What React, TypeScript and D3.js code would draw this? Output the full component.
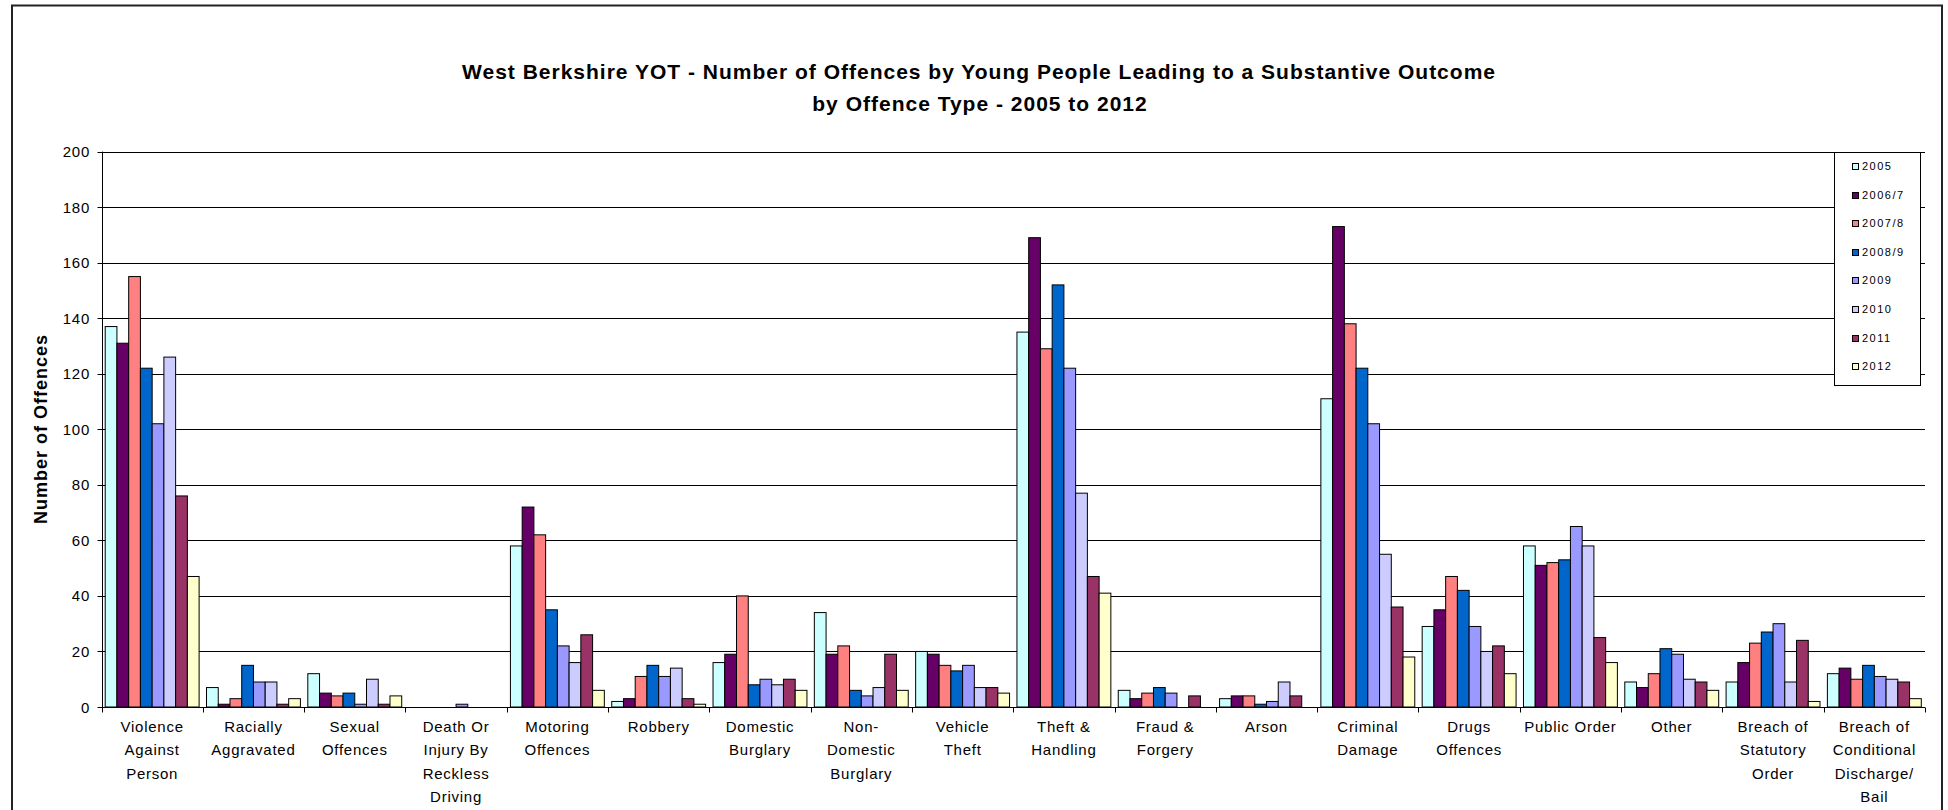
import React from "react";
import * as d3 from "d3";

const categories: string[][] = [
  ["Violence", "Against", "Person"],
  ["Racially", "Aggravated"],
  ["Sexual", "Offences"],
  ["Death Or", "Injury By", "Reckless", "Driving"],
  ["Motoring", "Offences"],
  ["Robbery"],
  ["Domestic", "Burglary"],
  ["Non-", "Domestic", "Burglary"],
  ["Vehicle", "Theft"],
  ["Theft &", "Handling"],
  ["Fraud &", "Forgery"],
  ["Arson"],
  ["Criminal", "Damage"],
  ["Drugs", "Offences"],
  ["Public Order"],
  ["Other"],
  ["Breach of", "Statutory", "Order"],
  ["Breach of", "Conditional", "Discharge/", "Bail"],
];

const seriesNames = ["2005", "2006/7", "2007/8", "2008/9", "2009", "2010", "2011", "2012"];
const seriesColors = ["#CCFFFF", "#660066", "#FF8080", "#0066CC", "#9999FF", "#CCCCFF", "#993366", "#FFFFCC"];

// values per category, in series order 2005..2012
const violence = [137, 131, 155, 122, 102, 126, 76, 47];
const racially = [7, 1, 3, 15, 9, 9, 1, 3];
const sexual = [12, 5, 4, 5, 1, 10, 1, 4];
const deathInjury = [0, 0, 0, 0, 1, 0, 0, 0];
const motoring = [58, 72, 62, 35, 22, 16, 26, 6];
const robbery = [2, 3, 11, 15, 11, 14, 3, 1];
const domesticBurglary = [16, 19, 40, 8, 10, 8, 10, 6];
const nonDomesticBurglary = [34, 19, 22, 6, 4, 7, 19, 6];
const vehicleTheft = [20, 19, 15, 13, 15, 7, 7, 5];
const theftHandling = [135, 169, 129, 152, 122, 77, 47, 41];
const fraudForgery = [6, 3, 5, 7, 5, 0, 4, 0];
const arson = [3, 4, 4, 1, 2, 9, 4, 0];
const criminalDamage = [111, 173, 138, 122, 102, 55, 36, 18];
const drugs = [29, 35, 47, 42, 29, 20, 22, 12];
const publicOrder = [58, 51, 52, 53, 65, 58, 25, 16];
const other = [9, 7, 12, 21, 19, 10, 9, 6];
const breachStatutory = [9, 16, 23, 27, 30, 9, 24, 2];
const breachConditional = [12, 14, 10, 15, 11, 10, 9, 3];

const values: number[][] = [
  violence, racially, sexual, deathInjury, motoring, robbery, domesticBurglary,
  nonDomesticBurglary, vehicleTheft, theftHandling, fraudForgery, arson,
  criminalDamage, drugs, publicOrder, other, breachStatutory, breachConditional,
];

const yTicks = [0, 20, 40, 60, 80, 100, 120, 140, 160, 180, 200];

const W = 1948;
const H = 810;
const plotLeft = 101.5;
const plotRight = 1925;
const plotTop = 151.6;
const plotBottom = 707;
const FONT = "Arial, 'Liberation Sans', Helvetica, sans-serif";

export default function App() {
  const catKeys = categories.map((c) => c.join(" "));
  const x = d3.scaleBand<string>().domain(catKeys).range([plotLeft, plotRight]).paddingInner(0).paddingOuter(0);
  const bw = x.bandwidth();
  const xs = d3.scaleBand<string>().domain(seriesNames).range([3.7, bw - 3.7]).padding(0);
  const y = d3.scaleLinear().domain([0, 200]).range([plotBottom, plotTop]);
  const crisp = (v: number) => Math.round(v) + 0.5;

  const boundaries = catKeys.map((k) => x(k)!).concat([plotRight]);

  return (
    <svg width={W} height={H} style={{ position: "absolute", left: 0, top: 0, background: "#fff" }} fontFamily={FONT}>
      <rect x={0} y={0} width={W} height={H} fill="#fff" />
      {/* outer frame */}
      <rect x={12} y={5.5} width={1930} height={H} fill="none" stroke="#222" strokeWidth={2} />

      {/* title */}
      <text x={979} y={79} textAnchor="middle" fontWeight="bold" fontSize={21} letterSpacing={1} fill="#000">
        West Berkshire YOT - Number of Offences by Young People Leading to a Substantive Outcome
      </text>
      <text x={980} y={111} textAnchor="middle" fontWeight="bold" fontSize={21} letterSpacing={1} fill="#000">
        by Offence Type - 2005 to 2012
      </text>

      {/* gridlines */}
      {yTicks.map((t) => (
        <line key={"g" + t} x1={plotLeft} x2={plotRight} y1={crisp(y(t))} y2={crisp(y(t))} stroke="#000" strokeWidth={1} />
      ))}

      {/* bars */}
      {values.map((row, ci) =>
        row.map((v, si) =>
          v > 0 ? (
            <rect
              key={ci + "-" + si}
              x={x(catKeys[ci])! + xs(seriesNames[si])!}
              y={y(v)}
              width={xs.bandwidth()}
              height={y(0) - y(v)}
              fill={seriesColors[si]}
              stroke="#000"
              strokeWidth={1}
            />
          ) : null
        )
      )}

      {/* y axis */}
      <line x1={crisp(plotLeft)} x2={crisp(plotLeft)} y1={plotTop} y2={plotBottom + 0.5} stroke="#000" strokeWidth={1} />
      {yTicks.map((t) => (
        <g key={"yt" + t}>
          <line x1={crisp(plotLeft) - 5} x2={crisp(plotLeft)} y1={crisp(y(t))} y2={crisp(y(t))} stroke="#000" />
          <text x={90} y={y(t) + 5.5} textAnchor="end" fontSize={15} letterSpacing={0.75} fill="#000">
            {t}
          </text>
        </g>
      ))}

      {/* x axis */}
      <line x1={plotLeft} x2={plotRight} y1={crisp(plotBottom)} y2={crisp(plotBottom)} stroke="#000" />
      {boundaries.map((b, i) => (
        <line key={"xt" + i} x1={crisp(b)} x2={crisp(b)} y1={crisp(plotBottom)} y2={crisp(plotBottom) + 5} stroke="#000" />
      ))}
      {categories.map((lines, ci) => (
        <text key={"xl" + ci} textAnchor="middle" fontSize={15} letterSpacing={0.75} fill="#000">
          {lines.map((ln, li) => (
            <tspan key={li} x={x(catKeys[ci])! + bw / 2} y={731.5 + li * 23.5}>
              {ln}
            </tspan>
          ))}
        </text>
      ))}

      {/* y axis title */}
      <text
        transform={`translate(47, 429) rotate(-90)`}
        textAnchor="middle"
        fontWeight="bold"
        fontSize={18}
        letterSpacing={1}
        fill="#000"
      >
        Number of Offences
      </text>

      {/* legend */}
      <rect x={1834.5} y={152.5} width={86} height={233} fill="#fff" stroke="#000" strokeWidth={1} />
      {seriesNames.map((s, i) => {
        const cy = 166 + i * 28.6;
        return (
          <g key={"lg" + i}>
            <rect x={1852.5} y={Math.round(cy - 3) + 0.5} width={6} height={6} fill={seriesColors[i]} stroke="#000" strokeWidth={1} />
            <text x={1862} y={cy + 4} fontSize={11} letterSpacing={1.5} fill="#000">
              {s}
            </text>
          </g>
        );
      })}
    </svg>
  );
}
